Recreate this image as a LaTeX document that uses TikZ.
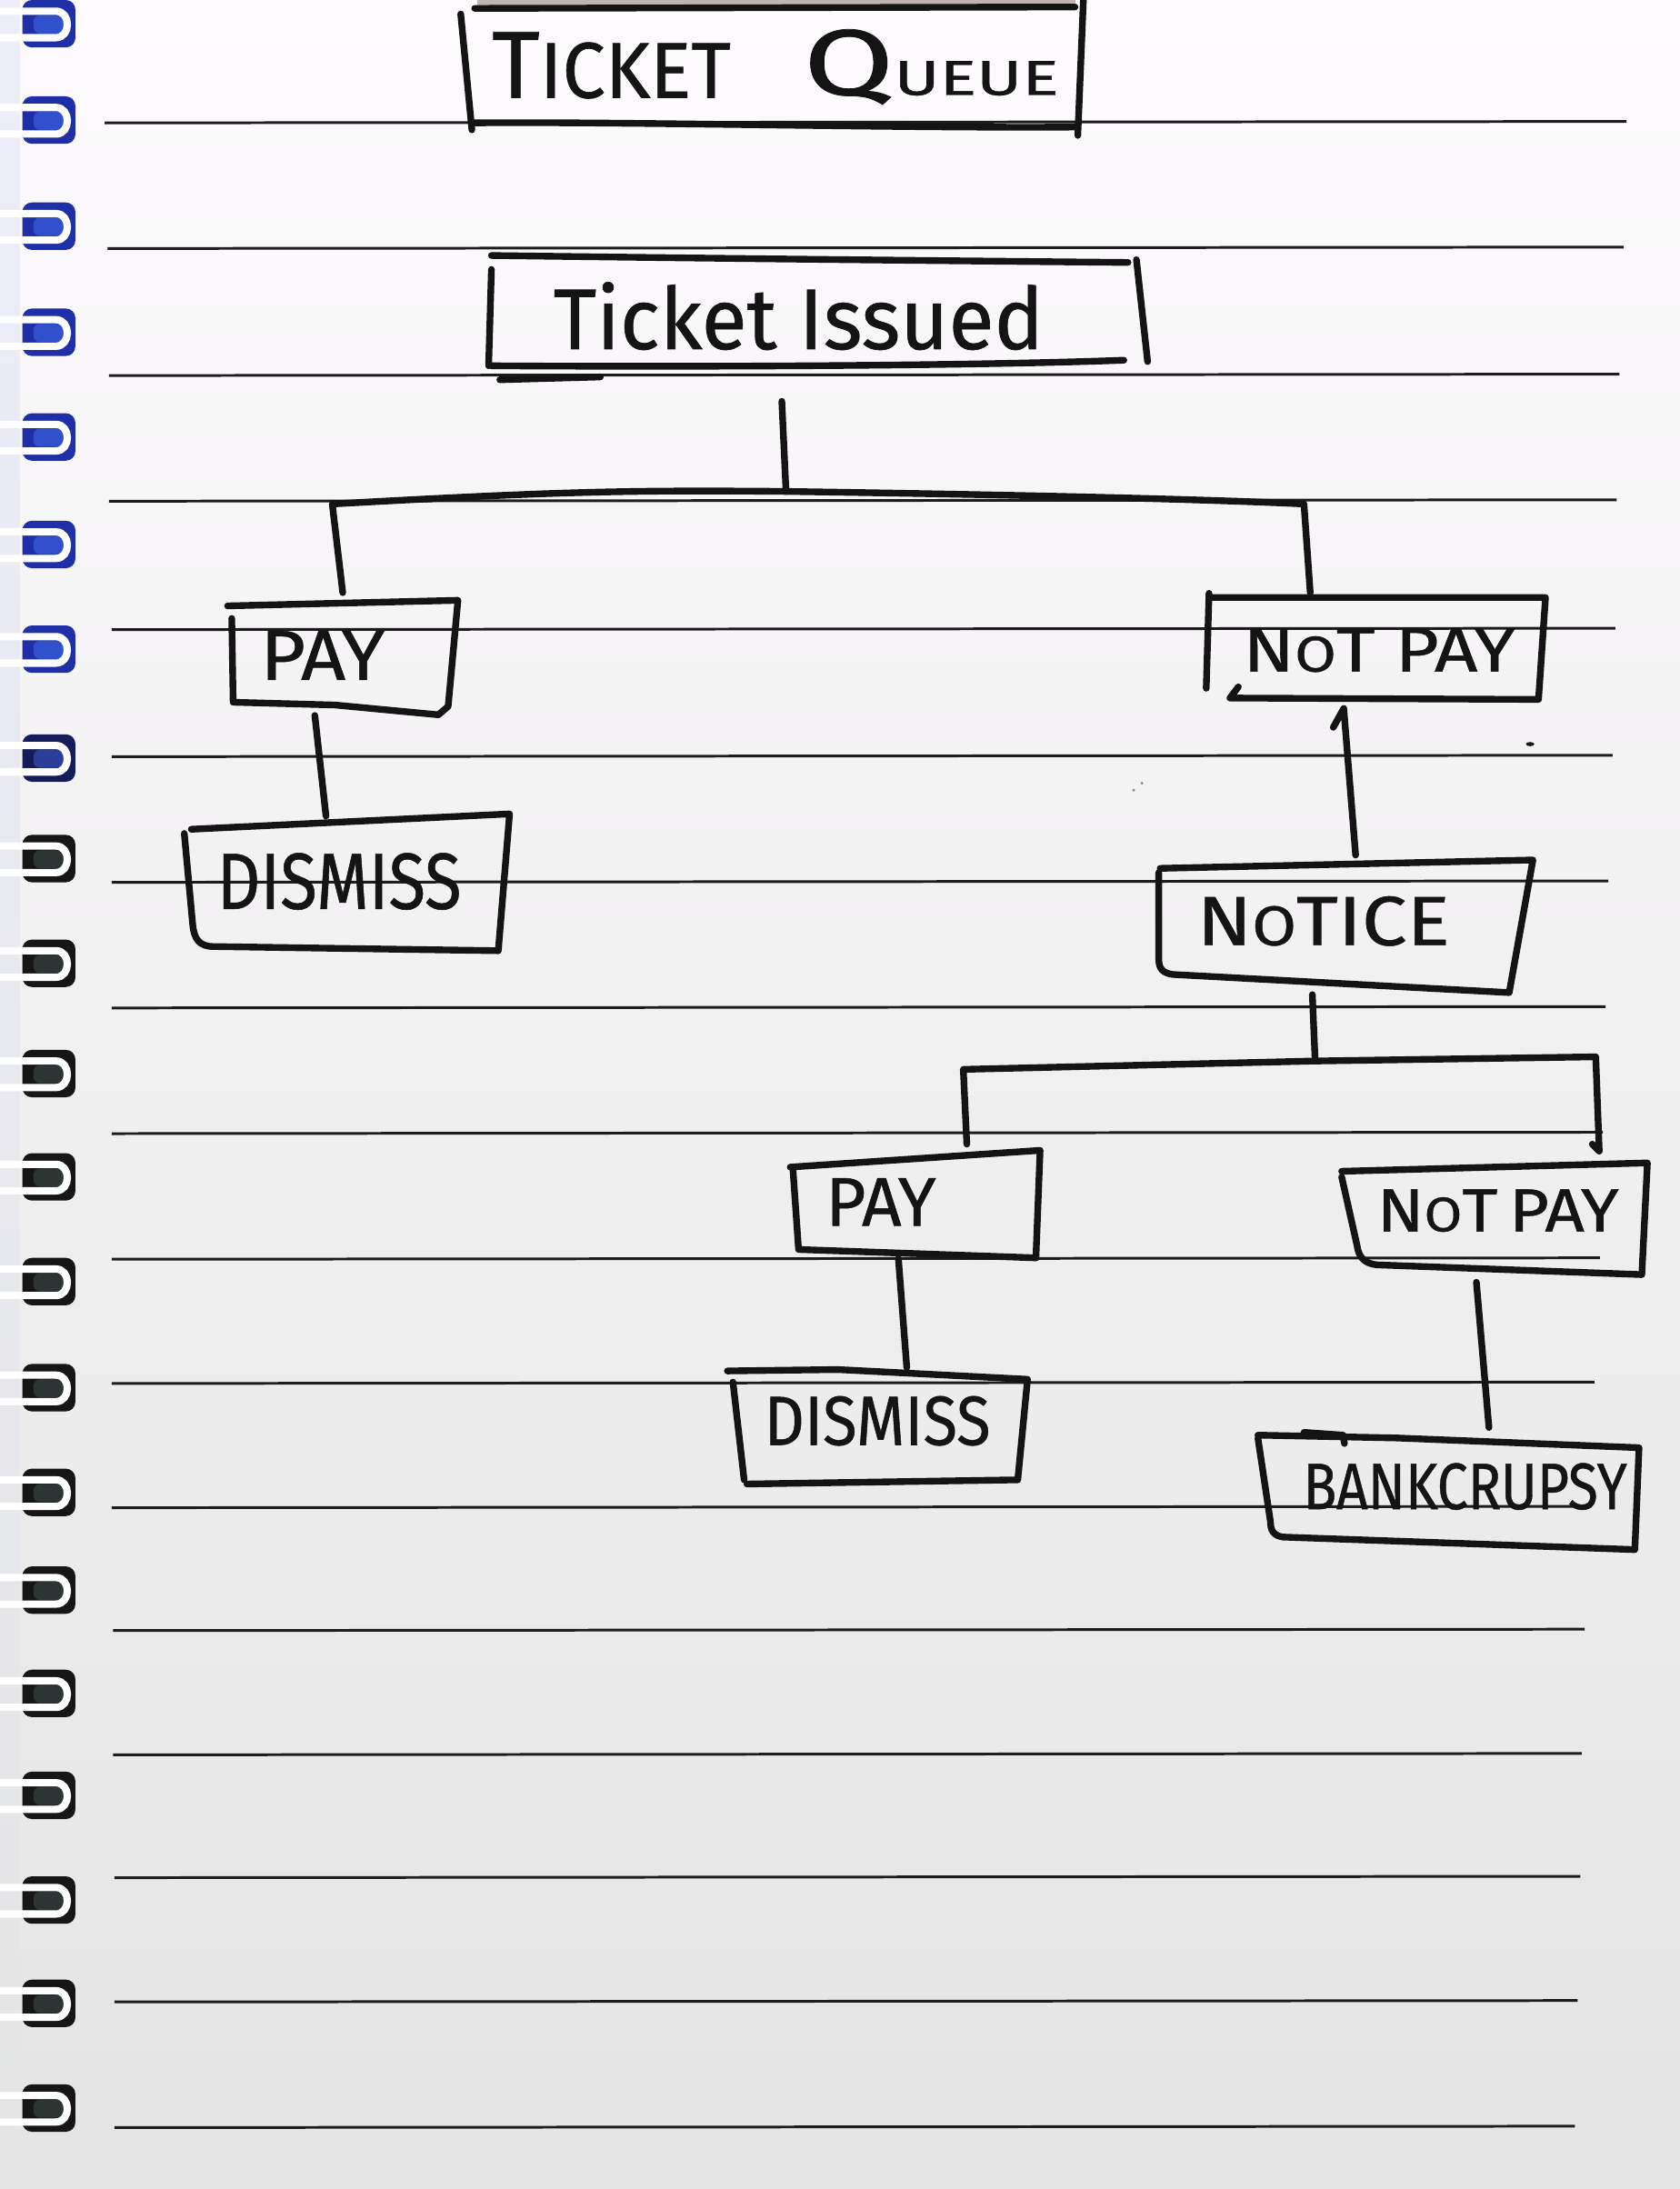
\documentclass[tikz,border=0pt]{standalone}
\usepackage{fontspec}
\setmainfont{Fira Sans}
\newfontfamily\handfont{Fira Sans}[FakeBold=0.7]
\usepackage{graphicx}
\usetikzlibrary{calc,fit}

\definecolor{papertop}{HTML}{FDFBFD}
\definecolor{papermid}{HTML}{F4F3F4}
\definecolor{paperlow}{HTML}{E4E4E4}
\definecolor{stripc}{HTML}{ECEDF8}
\definecolor{ringblue}{HTML}{1F2FA8}
\definecolor{ringblueIn}{HTML}{3050CC}
\definecolor{ringmid}{HTML}{141C5A}
\definecolor{ringmidIn}{HTML}{2A3E9A}
\definecolor{ringdark}{HTML}{161616}
\definecolor{ringdarkIn}{HTML}{2C3434}
\definecolor{inkc}{HTML}{141414}
\definecolor{rulec}{HTML}{1C1C1C}
\definecolor{bandc}{HTML}{BDB6AE}

% one unit of the drawing grid
\newlength\upx
\setlength\upx{0.01536cm}
% handwritten label squeezed to a given width and cap height
\newcommand\hw[3]{\resizebox{#1\upx}{#2\upx}{\handfont #3}}
\newcommand\capsz[2]{{\fontsize{#1pt}{#1pt}\selectfont #2}}

\begin{document}
\begin{tikzpicture}[x=0.01536cm,y=-0.01536cm,
  ink/.style={line width=2.1pt, line cap=round, line join=round, inkc},
  rule/.style={line width=0.85pt, rulec},
  wire/.style={line width=2.3pt, white, line cap=round},
  area/.style={inner sep=0pt, draw=none},
  lbl/.style={inner sep=0pt, anchor=base west, text=inkc}]

\useasboundingbox (0,0) rectangle (1203,1568);

% paper
\shade[top color=papertop, middle color=papermid, bottom color=paperlow]
  (0,0) rectangle (1203,1568);
\shade[top color=stripc, bottom color=paperlow] (0,0) rectangle (14,1568);

% spiral binding
\foreach \c [count=\i] in {17,86,162,238,313,390,465,543,615,690,769,843,918,994,1069,1139,1213,1286,1361,1435,1510}{
  \ifnum\i<8 \def\rc{ringblue}\def\ri{ringblueIn}\else
    \ifnum\i=8 \def\rc{ringmid}\def\ri{ringmidIn}\else\def\rc{ringdark}\def\ri{ringdarkIn}\fi\fi
  \fill[\rc, rounded corners=3] (16,{\c-17}) rectangle (54,{\c+17});
  \fill[\ri, rounded corners=2] (24,{\c-6}) rectangle (46,{\c+7});
  \draw[wire] (0,{\c-9}) -- (40,{\c-9}) .. controls (51,{\c-9}) and (51,{\c+10}) .. (40,{\c+10}) -- (0,{\c+10});
}

% ruled lines
\foreach \yy/\xa/\xb in {88/75/1165,178/77/1163,269/78/1160,359/78/1158,451/80/1157,
  542/80/1155,632/80/1152,722/80/1150,812/80/1148,902/80/1146,991/80/1142,1080/80/1140,
  1168/81/1135,1257/81/1133,1345/82/1132,1434/82/1130,1524/82/1128}{
  \draw[rule] (\xa,\yy) -- (\xb,{\yy-1});
}

% box areas
\node[area, fit={(330,6) (775,93)}] (queue) {};
\node[area, fit={(348,183) (822,262)}] (issued) {};
\node[area, fit={(163,428) (328,512)}] (pay1) {};
\node[area, fit={(864,425) (1107,501)}] (notpay1) {};
\node[area, fit={(132,583) (365,680)}] (dismiss1) {};
\node[area, fit={(830,616) (1098,710)}] (notice) {};
\node[area, fit={(566,824) (745,901)}] (pay2) {};
\node[area, fit={(961,833) (1180,913)}] (notpay2) {};
\node[area, fit={(521,981) (736,1063)}] (dismiss2) {};
\node[area, fit={(901,1028) (1174,1110)}] (bank) {};

% Ticket Queue box (top cut by the page edge)
\fill[bandc] (342,0) rectangle (770,4);
\draw[ink] (340,6) -- (770,5);
\draw[ink] (330,10) -- (338,93);
\draw[ink] (340,88) .. controls (450,87) and (650,92) .. (770,91);
\draw[ink] (776,0) -- (772,97);

% Ticket Issued box
\draw[ink] (352,183) .. controls (500,185) and (700,187) .. (808,188);
\draw[ink] (352,193) -- (350,262);
\draw[ink] (352,262) .. controls (500,263) and (700,262) .. (805,258);
\draw[ink] (358,272) -- (430,270);
\draw[ink] (814,186) -- (822,259);

% PAY
\draw[ink] (163,434) -- (328,430) -- (321,506) -- (314,512);
\draw[ink] (166,443) -- (167,503) -- (240,505) -- (314,512);

% NOT PAY
\draw[ink] (866,428) -- (1107,428) -- (1102,501) -- (881,500) -- (887,492);
\draw[ink] (866,425) -- (864,493);

% DISMISS
\draw[ink] (137,594) -- (365,583) -- (357,680);
\draw[ink] (132,597) -- (138,662) .. controls (139,673) and (143,678) .. (153,678) -- (357,681);

% NOTICE
\draw[ink] (831,622) -- (1098,616) -- (1081,711) -- (840,698)
  .. controls (833,697) and (830,694) .. (830,687) -- (830,625);

% second PAY
\draw[ink] (566,836) -- (745,824) -- (742,901);
\draw[ink] (568,838) -- (572,895) -- (742,901);

% second NOT PAY
\draw[ink] (961,839) -- (1180,833) -- (1176,913) -- (986,906)
  .. controls (977,905) and (973,900) .. (972,892) -- (961,843);

% second DISMISS
\draw[ink] (521,982) -- (600,981) -- (736,988) -- (729,1060) -- (535,1063);
\draw[ink] (525,990) -- (533,1060);

% BANKCRUPSY
\draw[ink] (901,1028) -- (1000,1030) -- (1174,1037) -- (1171,1110) -- (919,1101)
  .. controls (912,1100) and (910,1096) .. (910,1090) -- (901,1030);
\draw[ink] (934,1026) -- (962,1028) -- (963,1034);

% labels
\node[lbl] (queueT) at (352,70) {\hw{171}{47}{\capsz{20}{T}\capsz{16.6}{ICKET}}};
\node[lbl] (queueQ) at (575,68) {\hw{183}{47}{\capsz{20}{Q}\capsz{10.5}{UEUE}}};
\node[lbl] (issuedT) at (396,250) {\hw{351}{48}{Ticket Issued}};
\node[lbl] (pay1T) at (186,487) {\hw{89}{35}{PAY}};
\node[lbl] (notpay1T) at (890,481) {\hw{195}{31}{N\capsz{8}{O}T PAY}};
\node[lbl] (dismiss1T) at (155,651) {\hw{175}{40}{DISMISS}};
\node[lbl] (noticeT) at (857,677) {\hw{181}{35}{N\capsz{8}{O}TICE}};
\node[lbl] (pay2T) at (591,878) {\hw{79}{34}{PAY}};
\node[lbl] (notpay2T) at (986,882) {\hw{173}{30}{N\capsz{8}{O}T\,PAY}};
\node[lbl] (dismiss2T) at (547,1035) {\hw{162}{35}{DISMISS}};
\node[lbl] (bankT) at (933,1081) {\hw{232}{33}{BANKCRUPSY}};

% connectors
\coordinate (s1) at (563,352);
\coordinate (s2) at (942,760);
\draw[ink] ($(issued.south)+(-25,25)$) -- (s1);
\draw[ink] ($(pay1.north)+(0,-3)$) -- (238,361) .. controls (400,352) and (450,351) .. (s1)
  .. controls (700,354) and (850,357) .. (934,361) -- ($(notpay1.north)+(-47,0)$);
\draw[ink] ($(pay1.south)+(-20,0)$) -- ($(dismiss1.north)+(-15,2)$);
\draw[ink] (955,521) -- ($(notpay1.south)+(-23,6)$) -- ($(notice.north)+(7,-3)$);
\draw[ink] ($(notice.south)+(-24,2)$) -- (s2);
\draw[ink] ($(pay2.north)+(37,-4)$) -- (690,766) -- (s2) -- (1143,757)
  -- ($(notpay2.north)+(75,-8)$) -- ++(-5,-5);
\draw[ink] ($(pay2.south)+(-12,0)$) -- ($(dismiss2.north)+(21,-1)$);
\draw[ink] ($(notpay2.south)+(-13,5)$) -- ($(bank.north)+(29,-5)$);

% specks on the page
\fill[inkc] (1096,533) ellipse (3 and 1.5);
\fill[black!50] (812,566) circle (1);
\fill[black!50] (818,561) circle (1);
\end{tikzpicture}
\end{document}
